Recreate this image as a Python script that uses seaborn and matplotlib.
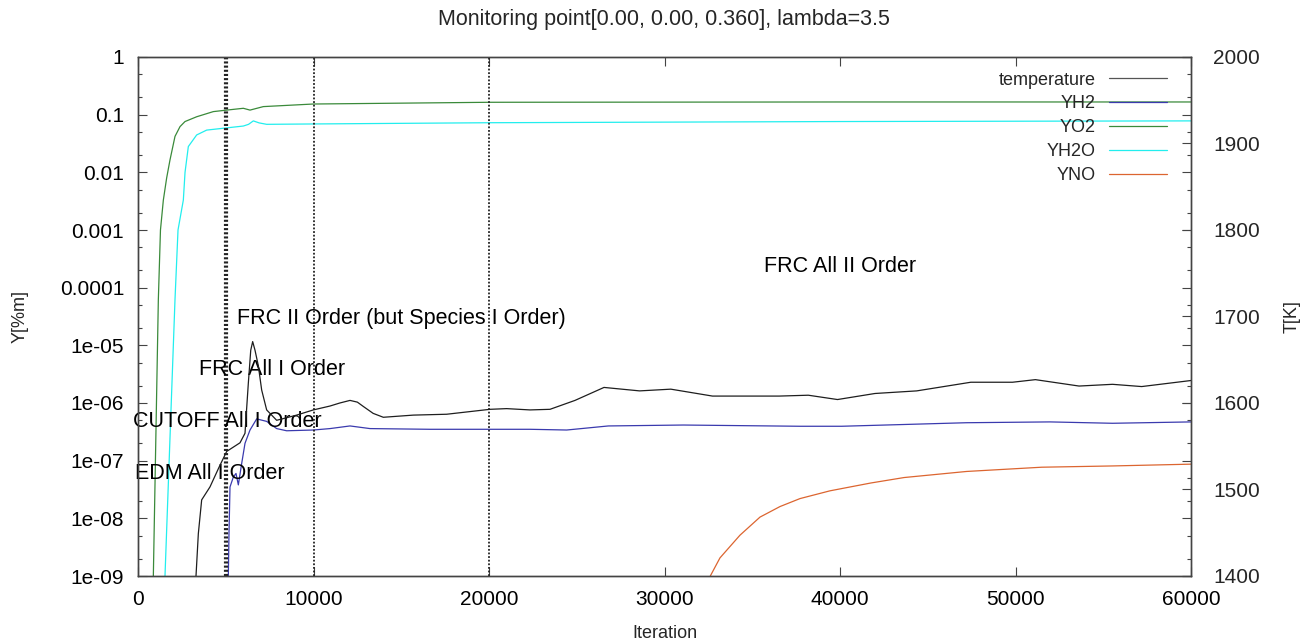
import numpy as np
import pandas as pd
import matplotlib
matplotlib.use("Agg")
import matplotlib.pyplot as plt
import seaborn as sns
from matplotlib.ticker import FixedLocator, NullFormatter
from matplotlib.lines import Line2D

# ---------------- data ----------------
temp_x = [3000, 3305, 3438, 3628, 4102, 4600, 5052, 5812, 6097, 6287, 6424, 6534,
          6667, 6857, 7047, 7331, 7901, 9041, 9991, 10940, 11500, 12080, 12500,
          12839, 13400, 13978, 15687, 17587, 20057, 21007, 22336, 23476, 24900,
          26553, 28580, 30360, 32735, 36535, 38195, 39857, 41994, 44370, 47454,
          49830, 51134, 53620, 55527, 57190, 60000]
temp_y = [1380, 1400, 1449, 1488, 1503, 1525, 1544, 1554, 1565, 1623, 1661, 1671,
          1661, 1643, 1615, 1592, 1580, 1586, 1592, 1596.5, 1600, 1603, 1601,
          1596, 1588, 1583.5, 1586, 1587, 1592.7, 1593.5, 1592, 1592.7, 1603,
          1618, 1614, 1616, 1608, 1608, 1609, 1604, 1611, 1614, 1624,
          1624, 1627, 1619.6, 1621.6, 1619, 1626]

yh2_x = [5147, 5185, 5242, 5432, 5584, 5717, 5907, 6097, 6382, 6762, 7331, 7901,
         8471, 9991, 10940, 12080, 13220, 16638, 22336, 24426, 26800, 31070, 37720,
         40095, 47216, 51966, 55527, 60000]
yh2_y = [1e-9, 5.5e-9, 3.5e-8, 5.2e-8, 6.0e-8, 3.8e-8, 8.9e-8, 2.0e-7, 3.4e-7, 5.3e-7,
         4.8e-7, 3.6e-7, 3.3e-7, 3.4e-7, 3.6e-7, 4.0e-7, 3.6e-7, 3.5e-7, 3.5e-7, 3.4e-7,
         4.0e-7, 4.15e-7, 3.95e-7, 3.95e-7, 4.55e-7, 4.7e-7, 4.45e-7, 4.7e-7]

yo2_x = [874, 1159, 1280, 1444, 1633, 1823, 2108, 2393, 2678, 3343, 4292, 5052,
         6002, 6382, 7141, 9991, 20057, 40000, 60000]
yo2_y = [1e-9, 6.2e-5, 1.0e-3, 3.3e-3, 8.0e-3, 1.64e-2, 4.2e-2, 6.2e-2, 7.6e-2,
         9.2e-2, 0.113, 0.120, 0.129, 0.120, 0.138, 0.153, 0.164, 0.166, 0.166]

yh2o_x = [1538, 2108, 2280, 2583, 2680, 2868, 3343, 3912, 5052, 6002, 6300, 6572,
          6900, 7331, 9991, 20057, 40000, 60000]
yh2o_y = [1e-9, 6.2e-5, 1.0e-3, 3.3e-3, 1.0e-2, 2.8e-2, 4.45e-2, 5.4e-2, 5.9e-2,
          6.35e-2, 6.8e-2, 7.8e-2, 7.2e-2, 6.8e-2, 6.9e-2, 7.25e-2, 7.6e-2, 7.8e-2]

yno_x = [32610, 33160, 34300, 35440, 36580, 37720, 39430, 41757, 43657, 47216,
         51491, 55527, 60000]
yno_y = [1e-9, 2.06e-9, 5.1e-9, 1.05e-8, 1.6e-8, 2.2e-8, 3.0e-8, 4.1e-8, 5.1e-8,
         6.5e-8, 7.7e-8, 8.1e-8, 8.7e-8]

stage_lines = [5000, 10000, 20000]
stage_labels = ["EDM All I Order", "CUTOFF All I Order", "FRC All I Order",
                "FRC II Order (but Species I Order)", "FRC All II Order"]

y_ticks = [1, 0.1, 0.01, 0.001, 0.0001, 1e-5, 1e-6, 1e-7, 1e-8, 1e-9]
y_tick_labels = ["1", "0.1", "0.01", "0.001", "0.0001", "1e-05", "1e-06",
                 "1e-07", "1e-08", "1e-09"]
t_ticks = [1400, 1500, 1600, 1700, 1800, 1900, 2000]
x_ticks = [0, 10000, 20000, 30000, 40000, 50000, 60000]

# ---------------- styling ----------------
sns.set_style("ticks")
plt.rcParams["font.family"] = ["Liberation Sans", "DejaVu Sans"]

W, H = 1306, 644
fig = plt.figure(figsize=(W / 100, H / 100), dpi=100)
L, R, T, B = 138, 1191, 57, 576
ax = fig.add_axes([L / W, 1 - B / H, (R - L) / W, (B - T) / H])
ax.set_yscale("log")
ax2 = ax.twinx()

c_temp = "#1e1e1e"
c_h2 = "#3a3aae"
c_o2 = "#3a8a3a"
c_h2o = "#22eeee"
c_no = "#dc6530"
lw = 0.9

sns.lineplot(x=temp_x, y=temp_y, ax=ax2, color=c_temp, lw=lw, estimator=None, sort=False)
sns.lineplot(x=yh2_x, y=yh2_y, ax=ax, color=c_h2, lw=lw, estimator=None, sort=False)
sns.lineplot(x=yo2_x, y=yo2_y, ax=ax, color=c_o2, lw=lw, estimator=None, sort=False)
sns.lineplot(x=yh2o_x, y=yh2o_y, ax=ax, color=c_h2o, lw=lw, estimator=None, sort=False)
sns.lineplot(x=yno_x, y=yno_y, ax=ax, color=c_no, lw=lw, estimator=None, sort=False)

for i, xv in enumerate(stage_lines):
    if i == 0:
        ax.axvline(xv, color="#222222", lw=3.0, ls=(0, (0.5, 0.5)), zorder=3)
    else:
        ax.axvline(xv, color="#222222", lw=1.3, ls=(0, (1.0, 1.0)), zorder=3)

ax.set_xlim(0, 60000)
ax.set_ylim(1e-9, 1)
ax2.set_ylim(1400, 2000)

# stage labels
lab_fs = 15.5
lab_pos = [(-170, 4.8e-8), (-285, 3.84e-7), (3476, 3.06e-6), (5641, 2.34e-5), (35670, 1.87e-4)]
for (lx, ly), txt in zip(lab_pos, stage_labels):
    ax.text(lx, ly, txt, fontsize=lab_fs, ha="left", va="baseline", color="black",
            clip_on=False, zorder=5)

# ticks
spine_c = "#444444"
ax.set_xticks(x_ticks)
ax.set_xticklabels([str(v) for v in x_ticks])
ax.yaxis.set_major_locator(FixedLocator(y_ticks))
ax.set_yticklabels(y_tick_labels)
minor = []
for e in range(-9, 0):
    minor += [2 * 10.0 ** e, 5 * 10.0 ** e]
ax.yaxis.set_minor_locator(FixedLocator(minor))
ax.yaxis.set_minor_formatter(NullFormatter())
ax.xaxis.set_minor_locator(FixedLocator([]))
ax.tick_params(axis="both", which="major", direction="in", length=6.5, width=0.8,
               color=spine_c, labelsize=15, pad=10, top=True, right=True,
               labelcolor="black")
ax.tick_params(axis="y", which="minor", direction="in", length=3.2, width=0.8,
               color=spine_c, right=True, left=True)
ax2.set_yticks(t_ticks)
ax2.set_yticklabels([str(v) for v in t_ticks])
ax2.yaxis.set_minor_locator(FixedLocator([]))
ax2.tick_params(axis="y", which="major", direction="in", length=6.5, width=0.8,
                color=spine_c, labelsize=15, pad=16)

for a in (ax, ax2):
    for s in a.spines.values():
        s.set_color(spine_c)
        s.set_linewidth(1.0)

ax.set_xlabel("Iteration", fontsize=13)
ax.xaxis.set_label_coords(0.5, -0.094)
ax.set_ylabel("Y[%m]", fontsize=13)
ax.yaxis.set_label_coords(-0.104, 0.5)
ax2.set_ylabel("T[K]", fontsize=13, rotation=90)
ax2.yaxis.set_label_coords(1.088, 0.5)

fig.text(664 / W, 1 - 20 / H, "Monitoring point[0.00, 0.00, 0.360], lambda=3.5",
         ha="center", va="center", fontsize=15.5)

# legend (gnuplot style: text right, sample after)
handles = [Line2D([], [], color="#555555", lw=lw),
           Line2D([], [], color=c_h2, lw=lw),
           Line2D([], [], color=c_o2, lw=lw),
           Line2D([], [], color=c_h2o, lw=lw),
           Line2D([], [], color=c_no, lw=lw)]
names = ["temperature", "YH2", "YO2", "YH2O", "YNO"]
leg = ax2.legend(handles, names, loc="upper right", bbox_to_anchor=(0.977, 0.972),
                 frameon=False, markerfirst=False, fontsize=13, handlelength=3.2,
                 handletextpad=0.75, labelspacing=0.38, borderaxespad=0, borderpad=0)
for t in leg.get_texts():
    t.set_ha("right")

fig.savefig("out.png", dpi=100)
